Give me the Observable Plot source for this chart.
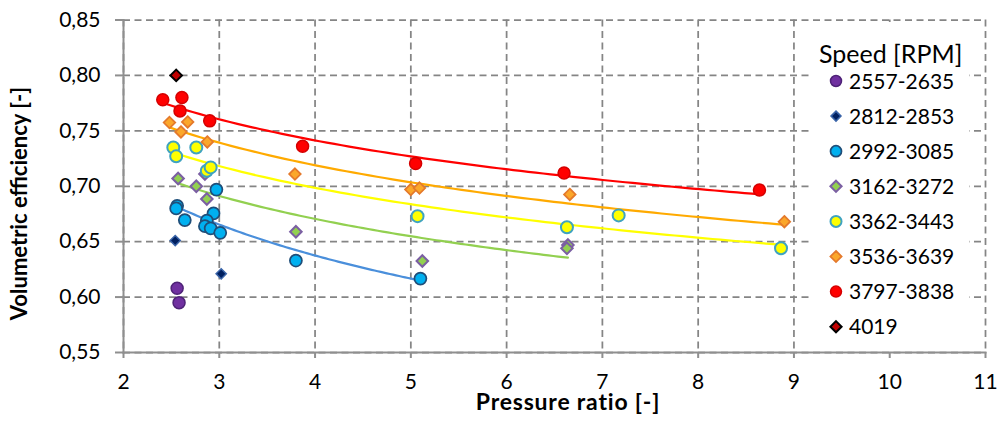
<!DOCTYPE html>
<html>
<head>
<meta charset="utf-8">
<script src="https://cdn.jsdelivr.net/npm/d3@7"></script>
<script src="https://cdn.jsdelivr.net/npm/@observablehq/plot@0.6"></script>
<style>
  html, body { margin: 0; padding: 0; background: #fff; }
  #wrap { position: relative; width: 998px; height: 423px; font-family: Lato, "Open Sans", sans-serif; }
  #legend { position: absolute; left: 810px; top: 22px; }
</style>
</head>
<body>
<div id="wrap"></div>
<script>
// ---- Data ----
const xTitle = "Pressure ratio [-]";
const yTitle = "Volumetric efficiency [-]";
const legendTitle = "Speed [RPM]";
const xTicks = [2, 3, 4, 5, 6, 7, 8, 9, 10, 11];
const yTicks = [0.55, 0.60, 0.65, 0.70, 0.75, 0.80, 0.85];

const speedLabels = ["2557-2635", "2812-2853", "2992-3085", "3162-3272", "3362-3443", "3536-3639", "3797-3838", "4019"];

const pr2557 = [2.56, 2.58];
const ve2557 = [0.608, 0.595];
const pr2812 = [2.54, 3.02];
const ve2812 = [0.651, 0.621];
const pr2992 = [2.56, 2.55, 2.64, 2.94, 2.97, 2.87, 2.85, 2.91, 3.01, 3.80, 5.10];
const ve2992 = [0.6824, 0.680, 0.6695, 0.6755, 0.697, 0.669, 0.664, 0.662, 0.658, 0.633, 0.6167];
const pr3162 = [2.57, 2.76, 2.87, 2.85, 3.80, 5.12, 6.64, 6.63];
const ve3162 = [0.707, 0.700, 0.6885, 0.711, 0.659, 0.6326, 0.647, 0.644];
const pr3362 = [2.52, 2.55, 2.76, 2.87, 2.91, 5.07, 6.63, 7.17, 8.865];
const ve3362 = [0.735, 0.727, 0.735, 0.714, 0.717, 0.673, 0.663, 0.6737, 0.644];
const pr3536 = [2.48, 2.67, 2.60, 2.875, 3.79, 5.00, 5.09, 6.66, 8.90];
const ve3536 = [0.7575, 0.758, 0.749, 0.740, 0.711, 0.697, 0.6984, 0.6926, 0.668];
const pr3797 = [2.41, 2.61, 2.59, 2.90, 3.87, 5.05, 6.60, 8.64];
const ve3797 = [0.778, 0.780, 0.768, 0.759, 0.736, 0.7205, 0.712, 0.6966];
const pr4019 = [2.55];
const ve4019 = [0.800];

// which series carry a power trendline
const hasTrend = [false, false, true, true, true, true, true, false];

// ---- Styles ----
const styles = [
  {symbol: "circle",   r: 6,   fill: "#7030A0", stroke: "#4E2277", sw: 1.5, line: null},
  {symbol: "diamond2", r: 4.6, fill: "#002060", stroke: "#3A64A8", sw: 1.5, line: null},
  {symbol: "circle",   r: 6,   fill: "#00B0F0", stroke: "#1F4E79", sw: 1.75, line: "#4A8FDB"},
  {symbol: "diamond2", r: 5.2, fill: "#92D050", stroke: "#7B5FA3", sw: 2, line: "#92D050"},
  {symbol: "circle",   r: 6,   fill: "#FFFF00", stroke: "#3FA3C0", sw: 2, line: "#FFFF00"},
  {symbol: "diamond2", r: 5.2, fill: "#FBA72A", stroke: "#E4792B", sw: 1.75, line: "#FFAA00"},
  {symbol: "circle",   r: 6,   fill: "#FF0000", stroke: "#D40000", sw: 1.5, line: "#FF0000"},
  {symbol: "diamond2", r: 5.2, fill: "#C00000", stroke: "#000000", sw: 2, line: null}
];

const xs = [pr2557, pr2812, pr2992, pr3162, pr3362, pr3536, pr3797, pr4019];
const ys = [ve2557, ve2812, ve2992, ve3162, ve3362, ve3536, ve3797, ve4019];

const series = speedLabels.map((label, i) => ({
  label,
  points: xs[i].map((x, j) => ({x, y: ys[i][j], label}))
}));

// Excel-style power trendline fitted (least squares in log-log) to each series' points
function powerFit(points) {
  const lx = points.map(p => Math.log(p.x)), ly = points.map(p => Math.log(p.y));
  const mx = d3.mean(lx), my = d3.mean(ly);
  const b = d3.sum(lx, (v, k) => (v - mx) * (ly[k] - my)) / d3.sum(lx, v => (v - mx) ** 2);
  const a = Math.exp(my - b * mx);
  const [x0, x1] = d3.extent(points, p => p.x);
  return d3.range(0, 81).map(k => {
    const x = x0 + (x1 - x0) * k / 80;
    return {x, y: a * Math.pow(x, b)};
  });
}

const gridStyle = {stroke: "#858585", strokeOpacity: 1, strokeWidth: 1.75, strokeDasharray: "7,4.5"};
const axisGray = "#8f8f8f";

const marks = [
  Plot.gridX(xTicks, gridStyle),
  Plot.gridY(yTicks, gridStyle),
  Plot.frame({anchor: "left", stroke: axisGray, strokeWidth: 2}),
  Plot.frame({anchor: "bottom", stroke: axisGray, strokeWidth: 2}),
  Plot.axisX(xTicks, {tickSize: 6, tickPadding: 16, stroke: axisGray, strokeWidth: 2, fill: "#000", label: null, fontSize: 21}),
  Plot.axisY(yTicks, {tickSize: 8, tickPadding: 15, stroke: axisGray, strokeWidth: 2, fill: "#000", label: null, fontSize: 21,
    tickFormat: d => d.toFixed(2).replace(".", ",")})
];

series.forEach((s, i) => {
  if (hasTrend[i]) {
    marks.push(Plot.line(powerFit(s.points), {x: "x", y: "y", stroke: styles[i].line, strokeWidth: 2.2}));
  }
});
series.forEach((s, i) => {
  const st = styles[i];
  marks.push(Plot.dot(s.points, {x: "x", y: "y", symbol: st.symbol, r: st.r, fill: st.fill, stroke: st.stroke, strokeWidth: st.sw}));
});

const chart = Plot.plot({
  width: 998,
  height: 423,
  marginLeft: 123,
  marginRight: 13,
  marginTop: 19.5,
  marginBottom: 71,
  x: {domain: [2, 11]},
  y: {domain: [0.55, 0.85]},
  style: {fontFamily: "Lato, 'Open Sans', sans-serif", fontSize: "21px", color: "#000", background: "#fff", overflow: "visible"},
  marks
});

// Axis titles
const svg = d3.select(chart);
svg.append("text")
  .attr("x", 568).attr("y", 409.5)
  .attr("text-anchor", "middle")
  .attr("font-size", 23).attr("font-weight", "bold").attr("letter-spacing", "0.8px")
  .attr("fill", "#000").text(xTitle);
svg.append("text")
  .attr("transform", "translate(27,203.5) rotate(-90)")
  .attr("text-anchor", "middle")
  .attr("font-size", 22).attr("font-weight", "bold")
  .attr("fill", "#000").text(yTitle);

const wrap = document.getElementById("wrap");
wrap.appendChild(chart);

// ---- Legend (overlay box inside the plot area) ----
const lw = 159, lh = 327;
const leg = d3.create("svg").attr("id", "legend").attr("width", lw).attr("height", lh)
  .style("font-family", "Lato, 'Open Sans', sans-serif");
leg.append("rect").attr("width", lw).attr("height", lh).attr("fill", "#fff");
leg.append("text").attr("x", 9).attr("y", 41.3).attr("font-size", 25).attr("fill", "#000").text(legendTitle);
speedLabels.forEach((label, i) => {
  const st = styles[i];
  const cy = 59 + i * 35.1;
  const g = leg.append("g");
  if (st.symbol === "circle") {
    g.append("circle").attr("cx", 26).attr("cy", cy).attr("r", 5.5)
      .attr("fill", st.fill).attr("stroke", st.stroke).attr("stroke-width", st.sw);
  } else {
    const h = i === 1 ? 5 : 5.6;
    g.append("path").attr("d", `M${26},${cy - h}L${26 + h},${cy}L${26},${cy + h}L${26 - h},${cy}Z`)
      .attr("fill", st.fill).attr("stroke", st.stroke).attr("stroke-width", st.sw);
  }
  g.append("text").attr("x", 39).attr("y", cy).attr("dy", "0.36em").attr("font-size", 21).attr("fill", "#000").text(label);
});
wrap.appendChild(leg.node());
</script>
</body>
</html>
